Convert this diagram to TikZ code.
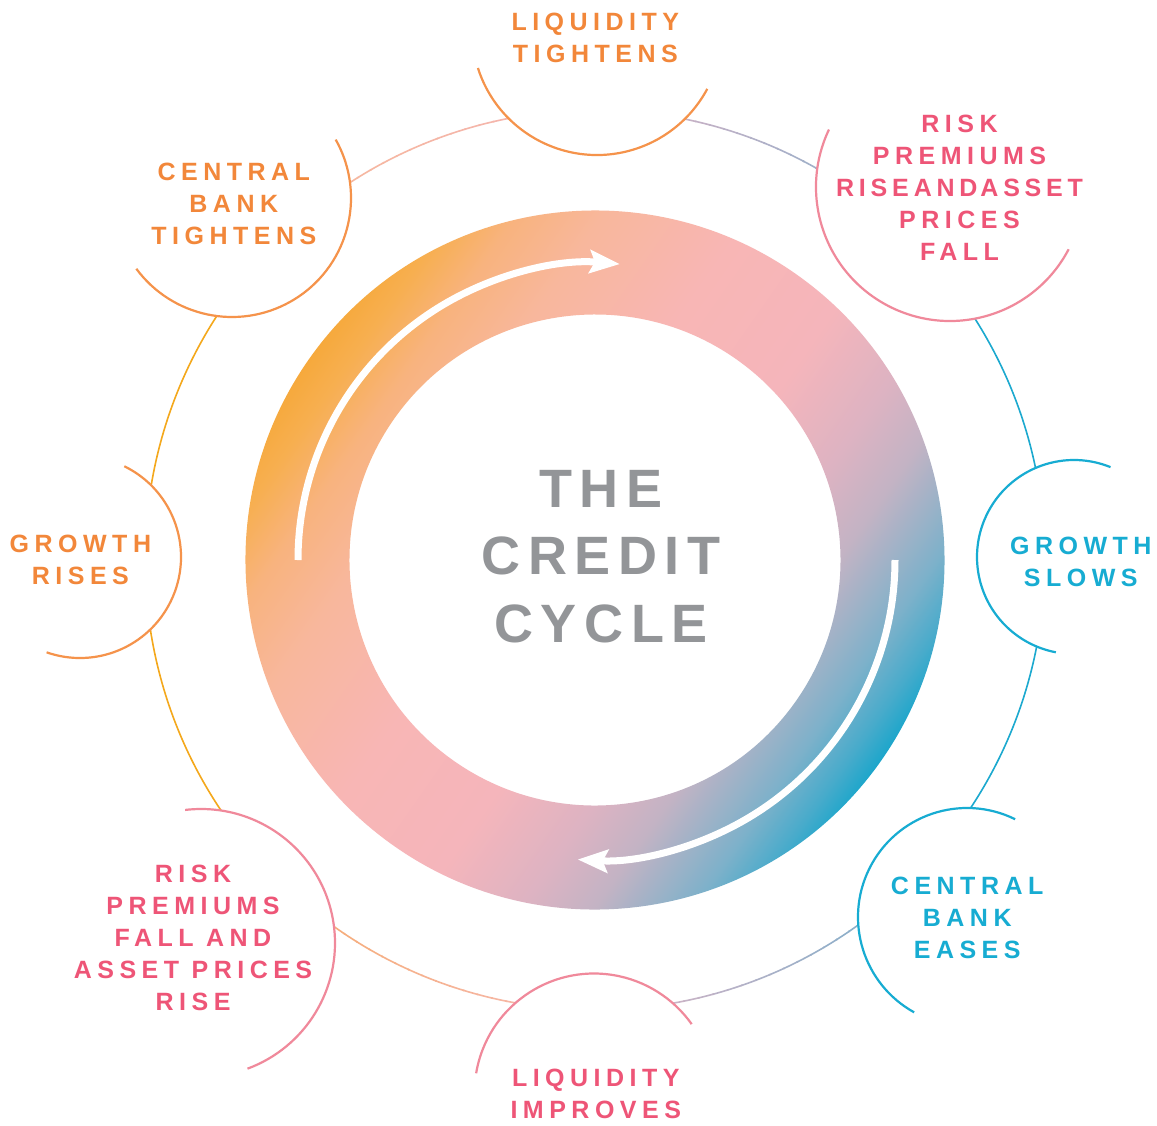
\documentclass[tikz,border=0pt]{standalone}
\usepackage{fontspec}
\setmainfont{Liberation Sans}
\newfontfamily\labfont{Liberation Sans}[LetterSpace=22]
\newfontfamily\tightfont{Liberation Sans}[LetterSpace=19]
\newfontfamily\ctrfont{Liberation Sans}[LetterSpace=14]
\usetikzlibrary{arrows.meta}
\definecolor{torange}{HTML}{F2873A}
\definecolor{aorange}{HTML}{F5934B}
\definecolor{tpink}{HTML}{EE5577}
\definecolor{apink}{HTML}{F0899B}
\definecolor{tteal}{HTML}{17ACD2}
\definecolor{tgray}{HTML}{939598}
\definecolor{lyel}{HTML}{F4A81C}
\definecolor{lteal}{HTML}{1CA9CF}
\definecolor{tla}{HTML}{F7B99A}
\definecolor{tlb}{HTML}{F4B4B2}
\definecolor{tra}{HTML}{E0B3C4}
\definecolor{trb}{HTML}{7FAECB}
\definecolor{bra}{HTML}{70ADCB}
\definecolor{brb}{HTML}{E4B5C4}
\definecolor{bla}{HTML}{F6BAB4}
\definecolor{blb}{HTML}{F6AA6C}
\definecolor{g0}{HTML}{F6A93C}
\definecolor{g1}{HTML}{F7AF50}
\definecolor{g2}{HTML}{F8B37E}
\definecolor{g3}{HTML}{F8B79C}
\definecolor{g4}{HTML}{F8B6B5}
\definecolor{g5}{HTML}{F5B5BB}
\definecolor{g6}{HTML}{DDB3C2}
\definecolor{g7}{HTML}{C3B3C4}
\definecolor{g8}{HTML}{7DB1CA}
\definecolor{g9}{HTML}{48ABCB}
\definecolor{g10}{HTML}{1CA6CB}
\pgfdeclarehorizontalshading{ringgrad}{100bp}{color(0bp)=(g0); color(25bp)=(g0); color(27.5bp)=(g1); color(31.25bp)=(g2); color(36.25bp)=(g3); color(45bp)=(g4); color(53.75bp)=(g5); color(60bp)=(g6); color(64.25bp)=(g7); color(70bp)=(g8); color(73bp)=(g9); color(75bp)=(g10); color(100bp)=(g10)}
\newcommand\gradarc[5]{%
  \foreach \ii in {1,...,#5}{%
    \pgfmathsetmacro\angA{#1+(\ii-1)*(#2-#1)/#5}%
    \pgfmathsetmacro\angB{#1+\ii*(#2-#1)/#5+0.2*sign(#2-#1)}%
    \pgfmathtruncatemacro\mixp{100*(\ii-0.5)/#5}%
    \draw[thinline, color=#4!\mixp!#3] ([shift={(\angA:450)}]C) arc[start angle=\angA, end angle=\angB, radius=450];
  }}
\tikzset{
  thinline/.style={line width=1.6bp},
  smallarc/.style={line width=2.2bp},
  lab/.style={align=center, inner sep=0pt, anchor=north, font=\labfont\bfseries\fontsize{25bp}{32bp}\selectfont},
  ctr/.style={align=center, inner sep=0pt, anchor=north, text=tgray, font=\ctrfont\bfseries\fontsize{54bp}{67.5bp}\selectfont},
  whitearrow/.style={white, line width=7bp, -{Stealth[length=30bp, width=23bp, inset=5bp]}}
}
\begin{document}
\begin{tikzpicture}[x=1bp,y=1bp]
\useasboundingbox[fill=white] (0,0) rectangle (1157,-1126);
\coordinate (C) at (595,-560);
% thin outer circle
\draw[thinline, lyel] ([shift={(135:450)}]C) arc[start angle=135, end angle=225, radius=450];
\gradarc{135}{90}{tla}{tlb}{24}
\gradarc{90}{46}{tra}{trb}{24}
\draw[thinline, lteal] ([shift={(46:450)}]C) arc[start angle=46, end angle=-44, radius=450];
\gradarc{-44}{-90}{bra}{brb}{24}
\gradarc{-90}{-135}{bla}{blb}{24}
% small circles
\coordinate (lt) at (597,-30);
\coordinate (rpr) at (950,-187);
\coordinate (cbt) at (232,-198);
\coordinate (gs) at (1074,-557);
\coordinate (gr) at (80,-557);
\coordinate (cbe) at (967,-917);
\coordinate (li) at (594,-1093);
\coordinate (rpf) at (201,-943);
\fill[white] (lt) circle[radius=125];
\fill[white] (rpr) circle[radius=134];
\fill[white] (cbt) circle[radius=119];
\fill[white] (gs) circle[radius=97];
\fill[white] (gr) circle[radius=101];
\fill[white] (cbe) circle[radius=109];
\fill[white] (li) circle[radius=119.5];
\fill[white] (rpf) circle[radius=134];
\draw[smallarc, aorange] ([shift={(-162.3:125)}]lt) arc[start angle=-162.3, end angle=-28.1, radius=125];
\draw[smallarc, apink] ([shift={(154.6:134)}]rpr) arc[start angle=154.6, end angle=332.3, radius=134];
\draw[smallarc, aorange] ([shift={(29.4:119)}]cbt) arc[start angle=29.4, end angle=-143.5, radius=119];
\draw[smallarc, tteal] ([shift={(67.9:97)}]gs) arc[start angle=67.9, end angle=259.2, radius=97];
\draw[smallarc, aorange] ([shift={(64:101)}]gr) arc[start angle=64, end angle=-109.3, radius=101];
\draw[smallarc, tteal] ([shift={(63.8:109)}]cbe) arc[start angle=63.8, end angle=241, radius=109];
\draw[smallarc, apink] ([shift={(170.5:119.5)}]li) arc[start angle=170.5, end angle=35.2, radius=119.5];
\draw[smallarc, apink] ([shift={(96.8:134)}]rpf) arc[start angle=96.8, end angle=-69.7, radius=134];
% gradient ring
\begin{scope}[transform canvas={rotate around={-35:(C)}}]
  \shade[shading=ringgrad, even odd rule] (C) circle[radius=349.5] (C) circle[radius=245.5];
\end{scope}
% arrows
\draw[whitearrow] ([shift={(180:297)}]C) arc[start angle=180, end angle=85.2, radius=297];
\draw[whitearrow] ([shift={(0:300)}]C) arc[start angle=0, end angle=-93.3, radius=300];
% center title
\node[ctr] (title) at (601,-470) {THE\\CREDIT\\CYCLE};
% labels
\node[lab, text=torange] (tlt) at (595.3,-13.3) {LIQUIDITY\\TIGHTENS};
\node[lab, text=tpink] (trpr) at (959.5,-115) {RISK\\PREMIUMS\\{\tightfont RISE\hspace{5bp}AND\hspace{3bp}ASSET}\\PRICES\\FALL};
\node[lab, text=torange] (tcbt) at (233.8,-163.3) {CENTRAL\\BANK\\TIGHTENS};
\node[lab, text=tteal] (tgs) at (1080.8,-536.7) {GROWTH\\SLOWS};
\node[lab, text=torange] (tgr) at (80.4,-535) {GROWTH\\RISES};
\node[lab, text=tteal] (tcbe) at (967.2,-877.3) {CENTRAL\\BANK\\EASES};
\node[lab, text=tpink] (tli) at (595.8,-1069.3) {LIQUIDITY\\IMPROVES};
\node[lab, text=tpink] (trpf) at (193,-865) {RISK\\PREMIUMS\\FALL AND\\ASSET PRICES\\RISE};
\end{tikzpicture}
\end{document}
